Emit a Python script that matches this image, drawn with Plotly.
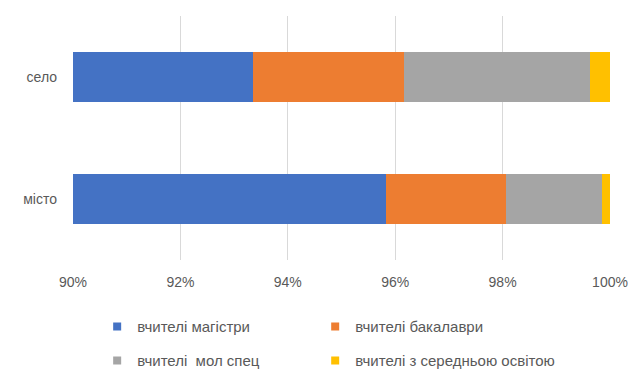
import plotly.graph_objects as go

categories = ["місто", "село"]
series_names = ["вчителі магістри", "вчителі бакалаври", "вчителі  мол спец", "вчителі з середньою освітою"]
magistry = [0.9583, 0.9335]
bakalavry = [0.0223, 0.0281]
mol_spec = [0.0179, 0.0347]
serednia = [0.0015, 0.0037]
colors = ["#4472C4", "#ED7D31", "#A5A5A5", "#FFC000"]
x_ticks = [0.90, 0.92, 0.94, 0.96, 0.98, 1.00]
x_tick_labels = ["90%", "92%", "94%", "96%", "98%", "100%"]

legend_ids = ["legend", "legend2", "legend3", "legend4"]
legend_x = [0.045, 0.451, 0.045, 0.451]
legend_y = [-0.206, -0.206, -0.345, -0.345]

fig = go.Figure()
for name, vals, col, lg in zip(series_names, [magistry, bakalavry, mol_spec, serednia], colors, legend_ids):
    fig.add_trace(go.Bar(
        y=categories, x=vals, name=name, orientation="h",
        marker=dict(color=col, line=dict(width=0)), showlegend=False,
    ))
    # legend proxy (small square symbol like the reference)
    fig.add_trace(go.Scatter(
        x=[None], y=[None], mode="markers", name=name, legend=lg,
        marker=dict(symbol="square", size=8, color=col), showlegend=True,
        hoverinfo="skip",
    ))

legend_common = dict(
    orientation="h", xanchor="left", yanchor="top",
    font=dict(size=15, color="#595959"), itemwidth=30,
    bgcolor="rgba(0,0,0,0)",
)

layout_legends = {}
for lg, lx, ly in zip(legend_ids, legend_x, legend_y):
    layout_legends[lg] = dict(x=lx, y=ly, **legend_common)

fig.update_layout(
    barmode="stack",
    bargap=0.595,
    width=629, height=373,
    margin=dict(l=65, r=27, t=8, b=121, autoexpand=False),
    paper_bgcolor="white", plot_bgcolor="white",
    font=dict(family="Liberation Sans, Arial, sans-serif", size=14, color="#595959"),
    xaxis=dict(
        range=[0.9, 1.0], tickvals=x_ticks, ticktext=x_tick_labels,
        showgrid=True, gridcolor="#D9D9D9", gridwidth=1,
        zeroline=False, showline=False, ticks="", ticklabelstandoff=12,
        automargin=False, tickfont=dict(size=14, color="#595959"),
    ),
    yaxis=dict(showgrid=False, zeroline=False, showline=False, ticks="",
               ticklabelstandoff=15, automargin=False,
               tickfont=dict(size=14, color="#595959")),
    showlegend=True,
    **layout_legends,
)

fig.write_html("out.html")
